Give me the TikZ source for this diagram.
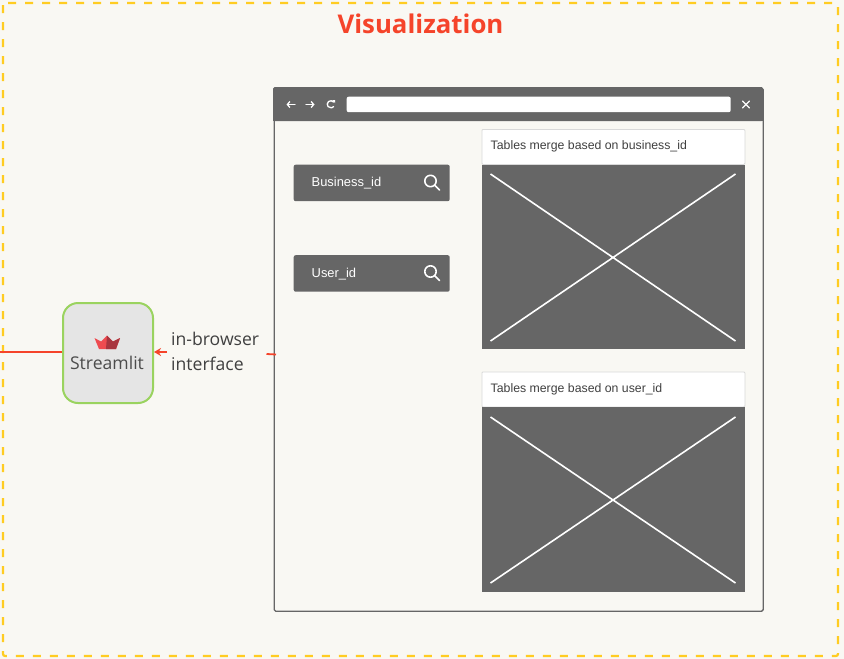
\documentclass[tikz,border=0pt]{standalone}
\usepackage{fontspec}
\setmainfont{Open Sans}
\newfontfamily\uifont{Liberation Sans}
\usetikzlibrary{arrows.meta}
\definecolor{paper}{HTML}{F9F8F3}
\definecolor{wire}{HTML}{666666}
\definecolor{linered}{HTML}{F5442A}
\definecolor{framey}{HTML}{FFCC22}
\definecolor{boxgreen}{HTML}{9AD35F}
\definecolor{crownred}{HTML}{EE4B50}
\definecolor{crowndark}{HTML}{A8353F}
\tikzset{
	panel/.style={fill=wire,draw=none,inner sep=0pt,anchor=north west},
	searchbox/.style={panel,rounded corners=2pt,minimum width=156pt,minimum height=36.5pt},
	searchlabel/.style={anchor=west,inner sep=0pt,text=white,font=\uifont\fontsize{12.9}{15}\selectfont},
	captionbox/.style={fill=white,draw=black!15,line width=0.8pt,rounded corners=1pt,inner sep=0pt,anchor=north west,minimum width=263pt,minimum height=35pt},
	captionlabel/.style={anchor=west,inner sep=0pt,font=\uifont\fontsize{12.3}{14}\selectfont,text=black!75},
	imagebox/.style={panel,minimum width=263pt},
	toolicon/.style={white,line width=1.3pt,line cap=round},
	redline/.style={draw=linered,line width=1.8pt}
}
\begin{document}
\begin{tikzpicture}[x=1pt,y=-1pt,line join=round,>=stealth]
	\useasboundingbox (0,0) rectangle (844,659);
	\fill[paper] (0,0) rectangle (844,659);
	\draw[framey,line width=2.2pt,dash pattern=on 8pt off 9pt,rounded corners=2pt] (3,3) rectangle (838,656);
	\node[font=\bfseries\fontsize{25.8}{30}\selectfont,text=linered] (title) at (420.5,24) {Visualization};
	% browser window
	\node[draw=wire,line width=1.4pt,fill=paper,rounded corners=1.5pt,inner sep=0pt,anchor=north west,minimum width=489pt,minimum height=523pt] (window) at (273.5,87.5) {};
	\fill[wire,rounded corners=1.5pt] (273,87) rectangle (763,121);
	\fill[wire] (273,110) rectangle (763,121);
	\node[fill=white,rounded corners=2pt,inner sep=0pt,anchor=north west,minimum width=384pt,minimum height=15.5pt] (urlbar) at (346.5,96.5) {};
	\draw[toolicon,-{Straight Barb[length=2.5pt,width=6pt]}] (295,104.5)--(286.5,104.5);
	\draw[toolicon,-{Straight Barb[length=2.5pt,width=6pt]}] (306,104.5)--(314.5,104.5);
	\draw[toolicon] (333.6,102) arc (-40:-320:3.6);
	\fill[white] (332,100)--(335,100)--(335,103)--cycle;
	\draw[toolicon] (742.5,101)--(749.5,108) (749.5,101)--(742.5,108);
	% search boxes
	\node[searchbox] (business) at (293.5,164.5) {};
	\node[searchbox] (user) at (293.5,255) {};
	\node[searchlabel] (businesslabel) at (311.5,183) {Business\_id};
	\node[searchlabel] (userlabel) at (311.5,274) {User\_id};
	\draw[toolicon,line width=1.6pt] (430.5,181) circle (5.7pt) (434.7,185.2)--(439.5,190);
	\draw[toolicon,line width=1.6pt] (430.5,271.5) circle (5.7pt) (434.7,275.7)--(439.5,280.5);
	% tables
	\node[captionbox] (captionone) at (481.5,129) {};
	\node[captionlabel] (captiononetext) at (490.5,146.5) {Tables merge based on business\_id};
	\node[imagebox,minimum height=184pt] (imageone) at (481.5,165) {};
	\draw[white,line width=1.6pt] (490.5,174)--(735.5,341) (735.5,174)--(490.5,341);
	\node[captionbox] (captiontwo) at (481.5,371.5) {};
	\node[captionlabel] (captiontwotext) at (490.5,389.5) {Tables merge based on user\_id};
	\node[imagebox,minimum height=185pt] (imagetwo) at (481.5,407) {};
	\draw[white,line width=1.6pt] (490.5,417)--(735.5,583) (735.5,417)--(490.5,583);
	% streamlit box
	\node[fill=black!10,draw=boxgreen,line width=2pt,rounded corners=15pt,inner sep=0pt,minimum width=90pt,minimum height=100pt,anchor=north west] (streamlit) at (62,302) {};
	\node[font=\fontsize{17.6}{20}\selectfont,text=black!70,inner sep=0pt] (streamlitlabel) at (107,362.5) {Streamlit};
	\fill[crownred] (94.5,338)--(101,341.5)--(107,335.5)--(113,341.5)--(120,338)--(116,349)--(99,349)--cycle;
	\fill[crowndark] (107,335.5)--(113,341.5)--(120,338)--(116,349)--(106,349)--cycle;
	% connectors
	\node[anchor=west,align=left,inner sep=0pt,font=\fontsize{17.6}{25.5}\selectfont,text=black!75] (browserlabel) at (171,351.5) {in-browser\\interface};
	\coordinate (leftend) at (0,351.7);
	\coordinate (arrowstart) at (167,352);
	\coordinate (tickleft) at (266.5,354);
	\coordinate (tickright) at (276,354.5);
	\draw[redline] (leftend)--(streamlit.west|-leftend);
	\draw[redline,-{Stealth[length=7pt,width=8pt]}] (arrowstart)--(streamlit.east|-arrowstart);
	\draw[redline] (tickleft)--(tickright);
\end{tikzpicture}
\end{document}
